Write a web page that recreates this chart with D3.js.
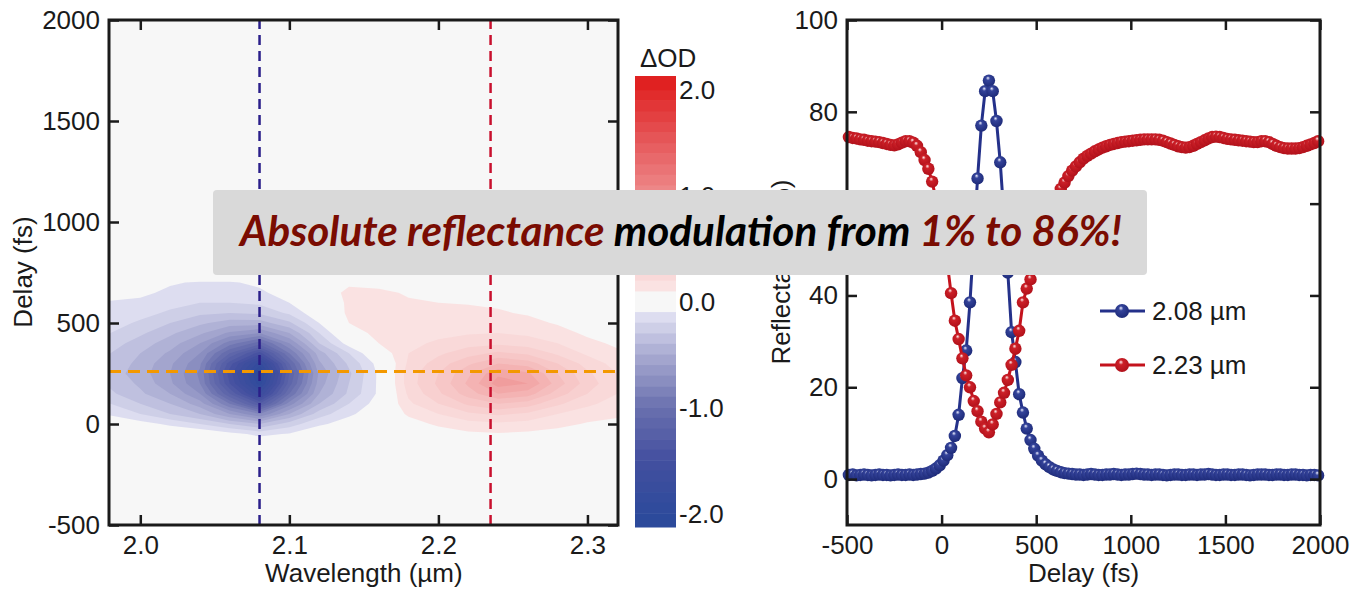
<!DOCTYPE html>
<meta charset="utf-8">
<script src="https://cdn.jsdelivr.net/npm/d3@7/dist/d3.min.js"></script>
<style>
body { margin: 0; background: #fff; }
svg text { font-family: "Liberation Sans", Arial, sans-serif; fill: #1a1a1a; }
.tick text { font-size: 26px; }
.tick line { stroke: #1a1a1a; stroke-width: 2.5; }
.title { font-size: 26px; }
</style>
<div id="chart"></div>
<script>
// ---------- data ----------
// transient absorption map: rows = delay (fs), columns = wavelength (um)
var gridWavelengths = [1.98, 2.00, 2.02, 2.04, 2.06, 2.08, 2.10, 2.12, 2.14, 2.16, 2.18, 2.20, 2.22, 2.24, 2.26, 2.28, 2.30, 2.32];
var gridDelays = [-150, -100, -50, 0, 50, 100, 150, 200, 250, 300, 350, 400, 450, 500, 550, 600, 650, 700, 750, 800];
var odGrid = [
  [0, 0, 0, 0, 0, 0, 0, 0, 0, 0, 0, 0, 0, 0, 0, 0, 0, 0],
  [0, 0, 0, 0, 0, 0, 0, 0, 0, 0, 0, 0, 0, 0, 0, 0, 0, 0],
  [0, 0, 0, 0, -0.06, -0.13, -0.09, 0, 0, 0, 0, 0.04, 0.08, 0.09, 0.08, 0.06, 0.04, 0.03],
  [0, -0.06, -0.12, -0.2, -0.3, -0.4, -0.25, -0.12, -0.05, 0, 0.05, 0.12, 0.16, 0.18, 0.16, 0.13, 0.09, 0.07],
  [-0.12, -0.2, -0.3, -0.4, -0.6, -0.8, -0.5, -0.25, -0.12, -0.03, 0.12, 0.2, 0.28, 0.32, 0.28, 0.2, 0.15, 0.12],
  [-0.2, -0.3, -0.4, -0.55, -0.9, -1.3, -0.75, -0.4, -0.2, -0.05, 0.18, 0.3, 0.42, 0.5, 0.45, 0.32, 0.22, 0.16],
  [-0.28, -0.38, -0.5, -0.7, -1.2, -1.7, -1.0, -0.5, -0.28, -0.08, 0.22, 0.38, 0.55, 0.7, 0.65, 0.45, 0.3, 0.2],
  [-0.32, -0.42, -0.58, -0.8, -1.4, -1.95, -1.15, -0.55, -0.3, -0.08, 0.25, 0.42, 0.62, 0.85, 0.8, 0.55, 0.35, 0.22],
  [-0.35, -0.45, -0.6, -0.82, -1.45, -2.05, -1.2, -0.58, -0.32, -0.08, 0.25, 0.4, 0.58, 0.78, 0.72, 0.5, 0.32, 0.2],
  [-0.33, -0.43, -0.58, -0.78, -1.35, -1.85, -1.1, -0.52, -0.28, -0.06, 0.22, 0.35, 0.48, 0.6, 0.55, 0.4, 0.26, 0.16],
  [-0.3, -0.4, -0.52, -0.7, -1.1, -1.45, -0.9, -0.45, -0.2, 0.02, 0.2, 0.28, 0.36, 0.42, 0.38, 0.28, 0.18, 0.12],
  [-0.25, -0.35, -0.45, -0.6, -0.85, -1.05, -0.7, -0.3, -0.05, 0.1, 0.17, 0.22, 0.26, 0.28, 0.25, 0.2, 0.13, 0.08],
  [-0.2, -0.28, -0.38, -0.48, -0.62, -0.7, -0.5, -0.2, 0.05, 0.13, 0.15, 0.17, 0.19, 0.2, 0.18, 0.14, 0.08, 0.04],
  [-0.15, -0.22, -0.3, -0.38, -0.45, -0.45, -0.32, -0.1, 0.1, 0.13, 0.13, 0.14, 0.15, 0.15, 0.13, 0.09, 0.04, 0],
  [-0.13, -0.16, -0.22, -0.28, -0.3, -0.28, -0.18, -0.02, 0.12, 0.13, 0.12, 0.12, 0.12, 0.11, 0.09, 0.05, 0, 0],
  [-0.11, -0.12, -0.16, -0.2, -0.2, -0.18, -0.1, 0, 0.12, 0.12, 0.11, 0.1, 0.095, 0.085, 0.05, 0, 0, 0],
  [-0.06, -0.08, -0.12, -0.14, -0.14, -0.12, -0.05, 0.02, 0.13, 0.12, 0.09, 0.06, 0.04, 0.02, 0, 0, 0, 0],
  [0, -0.04, -0.09, -0.11, -0.11, -0.08, 0, 0, 0.08, 0.07, 0.04, 0, 0, 0, 0, 0, 0, 0],
  [0, 0, 0, 0, 0, 0, 0, 0, 0, 0, 0, 0, 0, 0, 0, 0, 0, 0],
  [0, 0, 0, 0, 0, 0, 0, 0, 0, 0, 0, 0, 0, 0, 0, 0, 0, 0]
];
var odLevels = [0.1, 0.2, 0.3, 0.4, 0.5, 0.6, 0.7, 0.8, 0.9, 1.0, 1.1, 1.2, 1.3, 1.4, 1.5, 1.6, 1.7, 1.8, 1.9, 2.0];
var odStops = [-2.1, -1.5, -1.0, -0.5, -0.1, 0, 0.1, 0.5, 1.0, 1.5, 2.1];
var odColors = ["#2a4a9b", "#434f9f", "#6a70ae", "#a9abd2", "#e4e4f4", "#f7f7f7", "#fbe6e6", "#f6c3c3", "#ee8c8d", "#e65a5c", "#df1c1c"];
var cutWavelengths = [2.08, 2.235];
var cutDelay = 260;

// reflectance traces
var delays = [
  -490, -470, -450, -430, -410, -390, -370, -350, -330, -310,
  -290, -270, -250, -230, -210, -190, -170, -150, -130, -110,
  -90, -70, -50, -30, -10, 10, 30, 50, 70, 90,
  110, 130, 150, 170, 190, 210, 230, 250, 270, 290,
  310, 330, 350, 370, 390, 410, 430, 450, 470, 490,
  510, 530, 550, 570, 590, 610, 630, 650, 670, 690,
  710, 730, 750, 770, 790, 810, 830, 850, 870, 890,
  910, 930, 950, 970, 990, 1010, 1030, 1050, 1070, 1090,
  1110, 1130, 1150, 1170, 1190, 1210, 1230, 1250, 1270, 1290,
  1310, 1330, 1350, 1370, 1390, 1410, 1430, 1450, 1470, 1490,
  1510, 1530, 1550, 1570, 1590, 1610, 1630, 1650, 1670, 1690,
  1710, 1730, 1750, 1770, 1790, 1810, 1830, 1850, 1870, 1890,
  1910, 1930, 1950, 1970, 1990
];
var refl208 = [
  0.9, 1.0, 0.8, 0.9, 1.0, 0.9, 0.8, 0.9, 1.0, 0.9,
  0.9, 0.8, 0.9, 1.0, 0.9, 0.9, 1.0, 0.9, 1.0, 1.1,
  1.2, 1.4, 1.8, 2.3, 3.0, 4.0, 5.2, 6.8, 9.4, 14.0,
  22.0, 28.0, 38.5, 52.0, 65.5, 77.0, 84.5, 86.8, 84.5, 78.0,
  69.0, 57.0, 45.0, 32.0, 25.5, 18.5, 14.5, 11.0, 8.5, 6.6,
  5.1, 4.0, 3.2, 2.6, 2.1, 1.8, 1.5, 1.3, 1.2, 1.1,
  1.0, 1.0, 0.9, 1.0, 1.1, 1.0, 0.9, 0.9, 1.0, 1.0,
  1.1, 1.0, 0.9, 1.0, 1.0, 1.1, 1.2, 1.1, 1.0, 1.0,
  0.9, 1.0, 1.0, 0.9, 0.8, 0.9, 1.0, 1.0, 0.9, 0.9,
  1.0, 1.0, 0.9, 1.0, 1.0, 1.1, 1.0, 0.9, 0.9, 1.0,
  1.0, 0.9, 0.9, 1.0, 1.0, 0.9, 0.8, 0.9, 1.0, 1.0,
  1.0, 0.9, 0.9, 1.0, 1.0, 0.9, 0.9, 1.0, 1.0, 0.9,
  0.9, 0.8, 0.9, 0.9, 0.8
];
var refl223 = [
  74.5, 74.3, 74.2, 74.0, 73.9, 73.7, 73.6, 73.5, 73.4, 73.2,
  73.0, 72.8, 72.7, 72.9, 73.3, 73.6, 73.6, 73.3, 72.6, 71.2,
  69.5, 67.6, 64.8, 61.0, 56.5, 51.5, 47.0, 40.5, 34.5, 30.5,
  26.3, 22.6, 20.0, 17.0, 14.8, 12.5, 11.0, 10.2, 11.9, 14.2,
  16.7, 18.8, 21.6, 24.9, 28.4, 32.3, 38.5, 41.5, 43.5, 45.8,
  48.5, 51.5, 54.3, 56.8, 59.2, 61.3, 63.2, 64.6, 66.0, 67.2,
  68.1, 69.0, 69.8, 70.4, 70.9, 71.4, 71.8, 72.2, 72.5, 72.8,
  73.0, 73.2, 73.4, 73.5, 73.6, 73.7, 73.8, 73.9, 74.0, 74.0,
  74.0, 74.0, 73.9, 73.7, 73.4, 73.1, 72.8, 72.5, 72.3, 72.2,
  72.3, 72.6, 73.0, 73.4, 73.8, 74.2, 74.5, 74.6, 74.5, 74.3,
  74.1, 74.0, 73.9, 73.8, 73.7, 73.6, 73.5, 73.4, 73.4, 73.6,
  73.6, 73.4, 73.0, 72.6, 72.3, 72.1, 72.0, 72.0, 72.0, 72.1,
  72.3, 72.6, 72.9, 73.2, 73.6
];
var seriesNames = ["2.08 \u00b5m", "2.23 \u00b5m"];

// ---------- setup ----------
var W = 1363, H = 591, tickLen = 10;
var svg = d3.select("#chart").append("svg").attr("width", W).attr("height", H);

var xW = d3.scaleLinear().domain([1.979, 2.3205]).range([109, 618]);
var yD = d3.scaleLinear().domain([-500, 2000]).range([525, 20]);
var yC = d3.scaleLinear().domain([-2.13, 2.13]).range([527, 76]);
var xR = d3.scaleLinear().domain([-500, 2000]).range([847, 1320]);
var yR = d3.scaleLinear().domain([-10, 100]).range([525, 20]);
var odColor = d3.scaleLinear().domain(odStops).range(odColors).clamp(true);

// inward ticks on all four sides, plus a frame
function drawAxes(g, x, y, xVals, yVals, xFmt, yFmt) {
  var xr = x.range(), yr = y.range();
  var none = function() { return ""; };
  g.append("g").attr("transform", "translate(0," + yr[0] + ")")
    .call(d3.axisBottom(x).tickValues(xVals).tickFormat(xFmt).tickSizeInner(-tickLen).tickSizeOuter(0).tickPadding(11));
  g.append("g").attr("transform", "translate(0," + yr[1] + ")")
    .call(d3.axisTop(x).tickValues(xVals).tickFormat(none).tickSizeInner(-tickLen).tickSizeOuter(0));
  g.append("g").attr("transform", "translate(" + xr[0] + ",0)")
    .call(d3.axisLeft(y).tickValues(yVals).tickFormat(yFmt).tickSizeInner(-tickLen).tickSizeOuter(0).tickPadding(9));
  g.append("g").attr("transform", "translate(" + xr[1] + ",0)")
    .call(d3.axisRight(y).tickValues(yVals).tickFormat(none).tickSizeInner(-tickLen).tickSizeOuter(0));
  g.selectAll(".domain").remove();
  g.selectAll("g").attr("font-size", null).attr("font-family", null);
  g.append("rect")
    .attr("x", xr[0]).attr("y", yr[1])
    .attr("width", xr[1] - xr[0]).attr("height", yr[0] - yr[1])
    .attr("fill", "none").attr("stroke", "#1a1a1a").attr("stroke-width", 3);
}

// ---------- left: contour map ----------
var mapG = svg.append("g");
svg.append("defs").append("clipPath").attr("id", "mapClip")
  .append("rect").attr("x", 109).attr("y", 20).attr("width", 509).attr("height", 505);

mapG.append("rect").attr("x", 109).attr("y", 20).attr("width", 509).attr("height", 505).attr("fill", "#f7f7f7");

var nx = gridWavelengths.length, ny = gridDelays.length;
var posVals = [], negVals = [];
odGrid.forEach(function(row) { row.forEach(function(v) { posVals.push(v); negVals.push(-v); }); });

var colIdx = d3.scaleLinear().domain([0, nx - 1]).range([gridWavelengths[0], gridWavelengths[nx - 1]]);
var rowIdx = d3.scaleLinear().domain([0, ny - 1]).range([gridDelays[0], gridDelays[ny - 1]]);
var gridPath = d3.geoPath(d3.geoTransform({
  point: function(px, py) { this.stream.point(xW(colIdx(px - 0.5)), yD(rowIdx(py - 0.5))); }
}));
var contourGen = d3.contours().size([nx, ny]).thresholds(odLevels);

var cg = mapG.append("g").attr("clip-path", "url(#mapClip)");
cg.selectAll("path.neg").data(contourGen(negVals)).enter().append("path")
  .attr("class", "neg")
  .attr("d", gridPath)
  .attr("fill", function(d) { return odColor(-(d.value + 0.05)); });
cg.selectAll("path.pos").data(contourGen(posVals)).enter().append("path")
  .attr("class", "pos")
  .attr("d", gridPath)
  .attr("fill", function(d) { return odColor(d.value + 0.05); });

// cut lines
cg.append("line")
  .attr("x1", xW(cutWavelengths[0])).attr("x2", xW(cutWavelengths[0]))
  .attr("y1", yD(-500)).attr("y2", yD(2000))
  .attr("stroke", "#2b1f8a").attr("stroke-width", 2.5).style("stroke-dasharray", "10,6");
cg.append("line")
  .attr("x1", xW(cutWavelengths[1])).attr("x2", xW(cutWavelengths[1]))
  .attr("y1", yD(-500)).attr("y2", yD(2000))
  .attr("stroke", "#c8102e").attr("stroke-width", 2.5).style("stroke-dasharray", "10,6");
cg.append("line")
  .attr("x1", xW(1.979)).attr("x2", xW(2.3205))
  .attr("y1", yD(cutDelay)).attr("y2", yD(cutDelay))
  .attr("stroke", "#f39800").attr("stroke-width", 3).style("stroke-dasharray", "12,7");

drawAxes(mapG, xW, yD, [2.0, 2.1, 2.2, 2.3], [-500, 0, 500, 1000, 1500, 2000],
  d3.format(".1f"), function(d) { return String(d); });

mapG.append("text").attr("class", "title")
  .attr("x", xW(2.15)).attr("y", 582).attr("text-anchor", "middle")
  .text("Wavelength (\u00b5m)");
mapG.append("text").attr("class", "title")
  .attr("transform", "translate(32,272) rotate(-90)").attr("text-anchor", "middle")
  .text("Delay (fs)");

// ---------- colorbar ----------
var cbG = svg.append("g");
var bands = [{ lo: -0.1, hi: 0.1, c: odColor(0) }];
odLevels.forEach(function(t) {
  var top = t >= 2.0 ? yC.domain()[1] : t + 0.1;
  bands.push({ lo: t, hi: top, c: odColor(t + 0.05) });
  bands.push({ lo: -top, hi: -t, c: odColor(-(t + 0.05)) });
});
cbG.selectAll("rect.band").data(bands).enter().append("rect")
  .attr("class", "band")
  .attr("x", 635).attr("width", 41)
  .attr("y", function(d) { return yC(d.hi); })
  .attr("height", function(d) { return yC(d.lo) - yC(d.hi) + 0.5; })
  .attr("fill", function(d) { return d.c; });
cbG.selectAll("text.cbl").data([2, 1, 0, -1, -2]).enter().append("text")
  .attr("class", "title")
  .attr("x", 679).attr("y", function(d) { return yC(d); }).attr("dy", "0.36em")
  .text(function(d) { return d.toFixed(1); });
cbG.append("text").attr("class", "title").attr("x", 640).attr("y", 67).text("\u0394OD");

// ---------- right: reflectance traces ----------
var trG = svg.append("g");
var defs = svg.select("defs");
function ball(id, light, mid, dark) {
  var gr = defs.append("radialGradient").attr("id", id)
    .attr("cx", "0.45").attr("cy", "0.42").attr("r", "0.6").attr("fx", "0.42").attr("fy", "0.28");
  gr.append("stop").attr("offset", "0").attr("stop-color", light);
  gr.append("stop").attr("offset", "0.28").attr("stop-color", mid);
  gr.append("stop").attr("offset", "1").attr("stop-color", dark);
}
ball("ballBlue", "#eef0ff", "#34439a", "#1d2a78");
ball("ballRed", "#fff0f0", "#cc2028", "#b0101a");

var traces = [
  { name: seriesNames[0], vals: refl208, line: "#24318a", fill: "url(#ballBlue)" },
  { name: seriesNames[1], vals: refl223, line: "#c4121c", fill: "url(#ballRed)" }
];
var lineGen = d3.line().x(function(d) { return xR(d[0]); }).y(function(d) { return yR(d[1]); });

traces.forEach(function(s) {
  var pts = delays.map(function(t, i) { return [t, s.vals[i]]; });
  trG.append("path").datum(pts).attr("d", lineGen)
    .attr("fill", "none").attr("stroke", s.line).attr("stroke-width", 3);
  trG.append("g").selectAll("circle").data(pts).enter().append("circle")
    .attr("cx", function(d) { return xR(d[0]); })
    .attr("cy", function(d) { return yR(d[1]); })
    .attr("r", 6.2)
    .attr("fill", s.fill);
});

drawAxes(trG, xR, yR, [-500, 0, 500, 1000, 1500, 2000], [0, 20, 40, 60, 80, 100],
  function(d) { return String(d); }, function(d) { return String(d); });

trG.append("text").attr("class", "title")
  .attr("x", xR(750)).attr("y", 582).attr("text-anchor", "middle").text("Delay (fs)");
trG.append("text").attr("class", "title")
  .attr("transform", "translate(790,272) rotate(-90)").attr("text-anchor", "middle")
  .text("Reflectance (%)");

// legend
var lg = trG.append("g").selectAll("g").data(traces).enter().append("g")
  .attr("transform", function(d, i) { return "translate(1100," + (311 + i * 54) + ")"; });
lg.append("line").attr("x1", 0).attr("x2", 45).attr("y1", 0).attr("y2", 0)
  .attr("stroke", function(d) { return d.line; }).attr("stroke-width", 3);
lg.append("circle").attr("cx", 22).attr("cy", 0).attr("r", 7).attr("fill", function(d) { return d.fill; });
lg.append("text").attr("class", "title").attr("x", 52).attr("y", 0).attr("dy", "0.36em")
  .text(function(d) { return d.name; });

// ---------- banner ----------
var bn = svg.append("g");
bn.append("rect").attr("x", 213).attr("y", 190).attr("width", 934).attr("height", 85)
  .attr("rx", 4).attr("fill", "#d9d9d9");
var bt = bn.append("text").attr("x", 240).attr("y", 246)
  .style("font-family", "Lato, 'Open Sans', sans-serif")
  .style("font-weight", "bold").style("font-style", "italic").style("font-size", "40px");
bt.append("tspan").attr("fill", "#7a0c02").text("Absolute reflectance");
bt.append("tspan").attr("fill", "#000").text(" modulation from ");
bt.append("tspan").attr("fill", "#7a0c02").text("1% to 86%!");
var tw = bt.node().getComputedTextLength();
bt.style("font-size", (40 * 882 / tw).toFixed(1) + "px");
</script>
